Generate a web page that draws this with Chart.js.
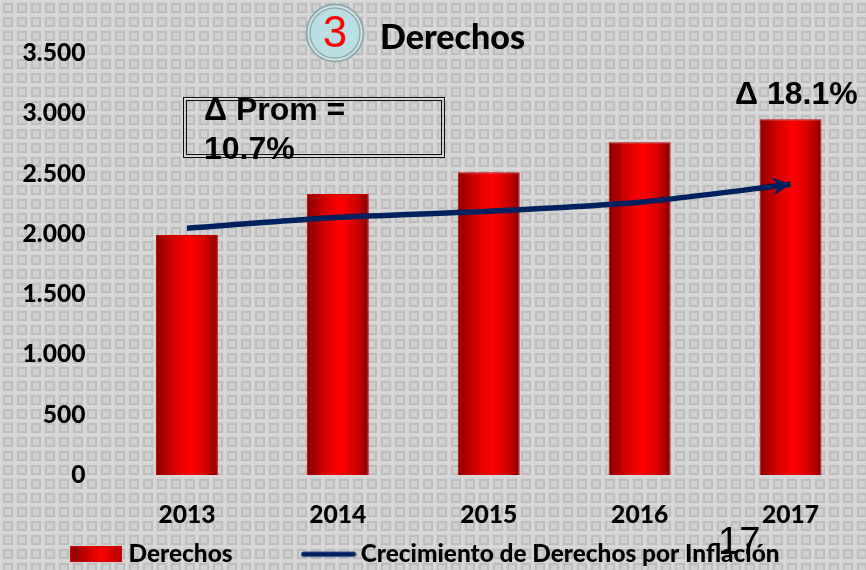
<!DOCTYPE html>
<html><head><meta charset="utf-8">
<style>html,body{margin:0;padding:0;background:#d2d2d2;overflow:hidden}#w{position:relative;width:866px;height:570px}</style>
<script src="https://cdn.jsdelivr.net/npm/chart.js@4"></script>
</head><body><div id="w"><canvas id="c" width="866" height="570"></canvas></div>
<script>
const categories = ["2013","2014","2015","2016","2017"];
const derechos = [1990,2330,2510,2760,2950];
const crecimiento = [2046,2137,2187,2262,2411];
const yTickLabels = ["0","500","1.000","1.500","2.000","2.500","3.000","3.500"];
const seriesNames = ["Derechos","Crecimiento de Derechos por Inflación"];

function tile(){
  const t=document.createElement('canvas');t.width=14;t.height=14;
  const g=t.getContext('2d');
  g.fillStyle='#d3d3d3';g.fillRect(0,0,14,14);
  g.fillStyle='#dcdcdc';g.fillRect(0,0,14,1);g.fillRect(0,0,1,14);
  g.strokeStyle='#bdbdbd';g.lineWidth=2;g.strokeRect(4,4,8,8);
  g.fillStyle='#d0d0d0';g.fillRect(5,5,6,6);
  return t;
}
function swatchBar(){
  const t=document.createElement('canvas');t.width=52;t.height=16;
  const g=t.getContext('2d');
  const l=g.createLinearGradient(0,0,52,0);
  l.addColorStop(0,'#8a0000');l.addColorStop(.6,'#ff0000');l.addColorStop(1,'#b00000');
  g.fillStyle=l;g.fillRect(0,0,52,16);
  g.strokeStyle='#d00000';g.lineWidth=1;g.strokeRect(.5,.5,51,15);
  return t;
}
function swatchLine(){
  const t=document.createElement('canvas');t.width=56;t.height=8;
  const g=t.getContext('2d');
  g.strokeStyle='#002060';g.lineWidth=5;g.lineCap='round';
  g.beginPath();g.moveTo(3,4);g.lineTo(53,4);g.stroke();
  return t;
}
const decor={
  id:'decor',
  beforeLayout(ch){
    const l=ch.legend;
    if(!l._w){l._w=true;const f=l.fit;l.fit=function(){f.call(this);this.height=31;};}
  },
  beforeDraw(ch){
    const c=ch.ctx;
    c.save();
    c.fillStyle=c.createPattern(tile(),'repeat');
    c.fillRect(0,0,866,570);
    c.restore();
  },
  afterLayout(ch){
    const l=ch.legend;
    l.left-=5;l.right-=5;l.top=466;
  },
  afterDatasetsDraw(ch){
    const c=ch.ctx;
    const sx=ch.scales.x,sy=ch.scales.y,n=crecimiento.length-1;
    const px=sx.getPixelForValue(n),py=sy.getPixelForValue(crecimiento[n]);
    c.save();
    c.translate(px,py);c.rotate(-0.12);
    c.fillStyle='#002060';
    c.beginPath();c.moveTo(0,0);c.lineTo(-18,-9);c.lineTo(-12,0);c.lineTo(-18,9);c.closePath();c.fill();
    c.restore();
    // badge
    c.save();
    c.beginPath();c.arc(335,33,28.5,0,Math.PI*2);c.fillStyle='#d5e4e6';c.fill();
    c.strokeStyle='#8fa9ad';c.lineWidth=2;c.stroke();
    c.beginPath();c.arc(335,33,25,0,Math.PI*2);c.fillStyle='#b9dfe4';c.fill();
    c.strokeStyle='#8fa9ad';c.lineWidth=1.5;c.stroke();
    c.fillStyle='#ff0000';c.font='44px "Liberation Sans"';c.textAlign='center';c.textBaseline='middle';
    c.fillText('3',335,35);
    c.textAlign='left';c.fillStyle='#000';
    c.font='900 34px Lato';c.fillText('Derechos',380,38);
    // box
    c.strokeStyle='#111';c.lineWidth=1;
    c.strokeRect(183.5,97.5,261,60);c.strokeRect(186.5,100.5,255,54);
    c.font='bold 32px "Liberation Sans"';
    c.fillText('Δ Prom =',204,111);
    c.fillText('10.7%',204,150);
    c.fillText('Δ 18.1%',735,95);
    c.font='38px "Liberation Sans"';
    c.fillText('17',718,544);
    c.restore();
  }
};
Chart.register(decor);
new Chart(document.getElementById('c'),{
  data:{labels:categories,datasets:[
    {type:'line',label:seriesNames[1],data:crecimiento,borderColor:'#002060',borderWidth:5.5,tension:.2,pointRadius:0,borderCapStyle:'butt',order:1},
    {type:'bar',label:seriesNames[0],data:derechos,order:2,categoryPercentage:1,barPercentage:.41,
     borderColor:'#c80000',borderWidth:1,
     backgroundColor(ctx){
       const ch=ctx.chart,s=ch.scales.x;
       if(!s||!ch.chartArea||ctx.dataIndex===undefined)return '#e00000';
       const x=s.getPixelForValue(ctx.dataIndex),h=s.width/categories.length*.205;
       const g=ch.ctx.createLinearGradient(x-h,0,x+h,0);
       g.addColorStop(0,'#8a0000');g.addColorStop(.3,'#d80000');g.addColorStop(.55,'#ff0000');g.addColorStop(.8,'#d00000');g.addColorStop(1,'#8a0000');
       return g;
     }}
  ]},
  options:{
    responsive:false,animation:false,
    layout:{padding:{top:53,left:0,right:0,bottom:0}},
    scales:{
      x:{grid:{display:false,drawTicks:false},border:{display:false},
         ticks:{color:'#000',font:{family:'Lato',weight:'900',size:24.6},padding:25,maxRotation:0},
         afterFit(s){s.height=64}},
      y:{min:0,max:3500,grid:{display:false,drawTicks:false},border:{display:false},
         ticks:{stepSize:500,color:'#000',font:{family:'Lato',weight:'900',size:24.6},padding:26,
                callback(v){return yTickLabels[v/500]}},
         afterFit(s){s.width=111.5}}
    },
    plugins:{
      tooltip:{enabled:false},
      legend:{position:'bottom',labels:{
        color:'#000',font:{family:'Lato',weight:'900',size:24.4},padding:76,usePointStyle:true,pointStyleWidth:40,boxHeight:16,
        generateLabels(){return [
          {text:seriesNames[0],pointStyle:swatchBar(),datasetIndex:1,fontColor:'#000',lineWidth:0},
          {text:seriesNames[1],pointStyle:swatchLine(),datasetIndex:0,fontColor:'#000',lineWidth:0}
        ]}
      }}
    }
  }
});
</script></body></html>
